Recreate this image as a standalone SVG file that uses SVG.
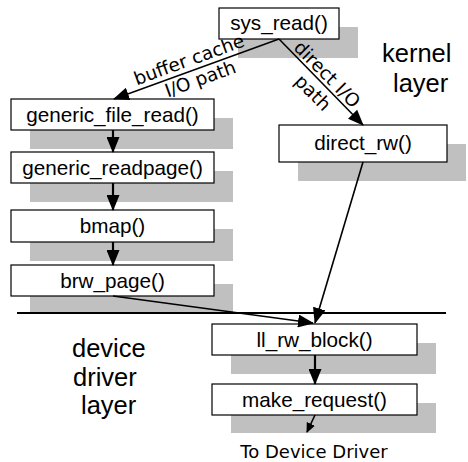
<svg xmlns="http://www.w3.org/2000/svg" width="468" height="462" viewBox="0 0 468 462">
<style>
.box{fill:#fff;stroke:#000;stroke-width:1.2}
.sh{fill:#c0c0c0}
.lbl{font-family:"Liberation Sans",Arial,sans-serif;font-size:20.7px;text-anchor:middle;fill:#000}
.big{font-family:"Liberation Sans",Arial,sans-serif;font-size:25.5px;fill:#000}
.path{font-family:"DejaVu Sans",sans-serif;font-size:18.5px;text-anchor:middle;fill:#000}
.c{stroke:#000;stroke-width:1.6;fill:none}
.v{stroke:#000;stroke-width:2.2;fill:none}
</style>
<defs>
<marker id="ah" markerUnits="userSpaceOnUse" markerWidth="16" markerHeight="13" refX="15" refY="6.5" orient="auto">
<path d="M0,0 L16,6.5 L0,13 z" fill="#000"/>
</marker>
<marker id="ahs" markerUnits="userSpaceOnUse" markerWidth="10" markerHeight="9" refX="9" refY="4.5" orient="auto">
<path d="M0,0 L10,4.5 L0,9 z" fill="#000"/>
</marker>
</defs>
<rect x="0" y="0" width="468" height="462" fill="#fff"/>
<g id="shadows">
<rect class="sh" x="238" y="27" width="120" height="31"/>
<rect class="sh" x="30" y="118" width="203" height="31"/>
<rect class="sh" x="298" y="144" width="168" height="37"/>
<rect class="sh" x="30" y="171" width="203" height="31"/>
<rect class="sh" x="30" y="229" width="203" height="32"/>
<rect class="sh" x="30" y="284" width="203" height="30"/>
<rect class="sh" x="231" y="343" width="205" height="31"/>
<rect class="sh" x="231" y="403" width="205" height="30"/>
</g>
<g id="divider">
<line x1="17" y1="313" x2="446" y2="313" stroke="#000" stroke-width="2.2"/>
</g>
<g id="sys_read"><rect class="box" x="219" y="8" width="120" height="31"/><text class="lbl" x="279" y="30">sys_read()</text></g>
<g id="generic_file_read"><rect class="box" x="11" y="99" width="203" height="31"/><text class="lbl" x="112.5" y="122">generic_file_read()</text></g>
<g id="direct_rw"><rect class="box" x="279" y="125" width="168" height="37"/><text class="lbl" x="363" y="150">direct_rw()</text></g>
<g id="generic_readpage"><rect class="box" x="11" y="152" width="203" height="31"/><text class="lbl" x="112.5" y="175">generic_readpage()</text></g>
<g id="bmap"><rect class="box" x="11" y="210" width="203" height="32"/><text class="lbl" x="112.5" y="233">bmap()</text></g>
<g id="brw_page"><rect class="box" x="11" y="265" width="203" height="31"/><text class="lbl" x="112.5" y="288">brw_page()</text></g>
<g id="ll_rw_block"><rect class="box" x="212" y="324" width="205" height="31"/><text class="lbl" x="314.5" y="347">ll_rw_block()</text></g>
<g id="make_request"><rect class="box" x="212" y="384" width="205" height="31"/><text class="lbl" x="314.5" y="407">make_request()</text></g>
<g id="connectors">
<line class="c" x1="279" y1="39" x2="114" y2="99" marker-end="url(#ah)"/>
<line class="c" x1="279" y1="39" x2="363" y2="125" marker-end="url(#ah)"/>
<line class="v" x1="113" y1="130" x2="113" y2="152" marker-end="url(#ah)"/>
<line class="v" x1="113" y1="183" x2="113" y2="210" marker-end="url(#ah)"/>
<line class="v" x1="113" y1="242" x2="113" y2="265" marker-end="url(#ah)"/>
<line class="c" x1="113" y1="296" x2="313" y2="323" marker-end="url(#ah)"/>
<line class="c" x1="363" y1="162" x2="315" y2="323" marker-end="url(#ah)"/>
<line class="v" x1="315" y1="355" x2="315" y2="384" marker-end="url(#ah)"/>
<line class="c" x1="315" y1="415" x2="307" y2="432" marker-end="url(#ahs)"/>
</g>
<g id="labels">
<g transform="translate(114,99) rotate(-20)">
<text class="path" x="84" y="-5">buffer cache</text>
<text class="path" x="88" y="17">I/O path</text>
</g>
<g transform="translate(279,39) rotate(45.3)">
<text class="path" x="59" y="-3">direct I/O</text>
<text class="path" x="62" y="20">path</text>
</g>
<text class="big" x="382" y="62">kernel</text>
<text class="big" x="393" y="92">layer</text>
<text class="big" x="72" y="357">device</text>
<text class="big" x="73" y="386">driver</text>
<text class="big" x="81" y="414">layer</text>
<text class="path" style="font-size:18px" x="314" y="458">To Device Driver</text>
</g>
</svg>
